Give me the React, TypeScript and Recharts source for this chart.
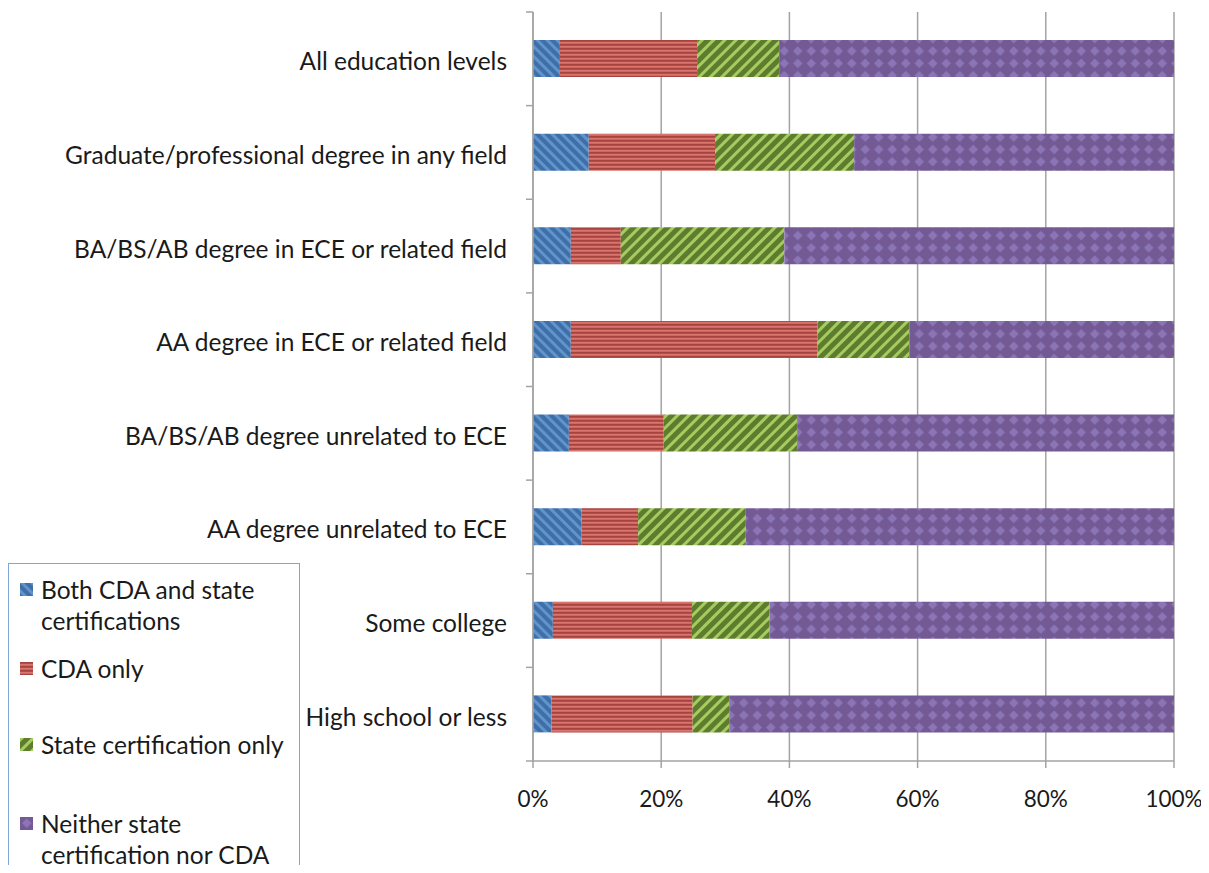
import { BarChart, Bar, XAxis, YAxis, CartesianGrid, Legend } from "recharts";

const categories = [
  "All education levels",
  "Graduate/professional degree in any field",
  "BA/BS/AB degree in ECE or related field",
  "AA degree in ECE or related field",
  "BA/BS/AB degree unrelated to ECE",
  "AA degree unrelated to ECE",
  "Some college",
  "High school or less",
];

// shares of workers in each education group, percent
const bothCdaState = [4.2, 8.7, 5.9, 5.9, 5.6, 7.6, 3.1, 2.9];
const cdaOnly = [21.4, 19.7, 7.8, 38.5, 14.8, 8.8, 21.7, 22.0];
const stateOnly = [12.8, 21.7, 25.5, 14.3, 20.8, 16.8, 12.1, 5.7];
const neither = [61.6, 49.9, 60.8, 41.3, 58.8, 66.8, 63.1, 69.4];

const xTicks = [0, 20, 40, 60, 80, 100];

const seriesNames = [
  "Both CDA and state certifications",
  "CDA only",
  "State certification only",
  "Neither state certification nor CDA",
];

const data = categories.map((name, i) => ({
  name,
  both: bothCdaState[i],
  cda: cdaOnly[i],
  state: stateOnly[i],
  neither: neither[i],
}));

const FONT = "Lato, 'Open Sans', sans-serif";
const WIDTH = 1201;
const HEIGHT = 865;
const Y_AXIS_W = 525;
const TOP = 4;
const BOTTOM = 52;
const X_AXIS_H = 60;
const PLOT_H = HEIGHT - TOP - BOTTOM - X_AXIS_H;
const BAND = PLOT_H / categories.length;
const GRID = "#a3a3a3";
const TEXT = "#1a1a1a";

function CategoryTick(props: any) {
  const { y, payload, index } = props;
  const y0 = y - BAND / 2;
  return (
    <g>
      <text
        x={Y_AXIS_W - 26}
        y={y + 2}
        textAnchor="end"
        dominantBaseline="central"
        fontFamily={FONT}
        fontSize={24.5}
        fill={TEXT}
      >
        {payload.value}
      </text>
      <line x1={Y_AXIS_W - 7} x2={Y_AXIS_W} y1={y0} y2={y0} stroke={GRID} strokeWidth={1.5} />
      {index === categories.length - 1 && (
        <line x1={Y_AXIS_W - 7} x2={Y_AXIS_W} y1={y0 + BAND} y2={y0 + BAND} stroke={GRID} strokeWidth={1.5} />
      )}
    </g>
  );
}

const swatches = ["url(#pBlue)", "url(#pRed)", "url(#pGreen)", "url(#pPurple)"];

function LegendBox() {
  const rows = [
    { label: ["Both CDA and state", "certifications"], top: 10 },
    { label: ["CDA only"], top: 89 },
    { label: ["State certification only"], top: 165 },
    { label: ["Neither state", "certification nor CDA"], top: 244 },
  ];
  return (
    <div
      style={{
        position: "relative",
        width: 292,
        height: 330,
        border: "1.5px solid #7ea6d8",
        boxSizing: "border-box",
        fontFamily: FONT,
        fontSize: 24.5,
        color: TEXT,
        background: "#fff",
      }}
    >
      {rows.map((r, i) => (
        <div key={i} style={{ position: "absolute", left: 11, top: r.top, display: "flex" }}>
          <svg width={13} height={13} style={{ marginTop: 9, marginRight: 8, flex: "none" }}>
            <rect width={13} height={13} fill={swatches[i]} />
          </svg>
          <div style={{ lineHeight: "31px", whiteSpace: "nowrap" }} title={seriesNames[i]}>
            {r.label.map((l) => (
              <div key={l}>{l}</div>
            ))}
          </div>
        </div>
      ))}
    </div>
  );
}

export default function App() {
  // the legend box runs past the bottom edge; clip it there and keep the page from scrolling
  return (
    <div style={{ width: WIDTH, height: HEIGHT, overflow: "hidden", marginBottom: -8 }}>
      <BarChart
        width={WIDTH}
        height={HEIGHT}
        data={data}
        layout="vertical"
        margin={{ top: TOP, right: 35, bottom: BOTTOM, left: 0 }}
      >
        <defs>
          <pattern id="pBlue" patternUnits="userSpaceOnUse" width={7} height={7} patternTransform="rotate(-45)">
            <rect width={7} height={7} fill="#3f6fa6" />
            <rect width={3} height={7} fill="#5f94cc" />
          </pattern>
          <pattern id="pRed" patternUnits="userSpaceOnUse" width={4} height={4}>
            <rect width={4} height={4} fill="#c65a55" />
            <rect y={0} width={4} height={1.6} fill="#a5443f" />
            <rect y={2.2} width={4} height={1.2} fill="#de7c74" />
          </pattern>
          <pattern id="pGreen" patternUnits="userSpaceOnUse" width={8} height={8} patternTransform="rotate(45)">
            <rect width={8} height={8} fill="#5f7b2d" />
            <rect width={3} height={8} fill="#a4cd61" />
          </pattern>
          <pattern id="pPurple" patternUnits="userSpaceOnUse" width={13.5} height={12.3}>
            <rect width={13.5} height={12.3} fill="#735a95" />
            <path d="M6.75 1.4 L11.5 6.15 L6.75 10.9 L2 6.15 Z" fill="#8c75b6" />
          </pattern>
        </defs>
        <CartesianGrid horizontal={false} stroke={GRID} strokeWidth={1.5} />
        <XAxis
          type="number"
          domain={[0, 100]}
          ticks={xTicks}
          tickFormatter={(v: number) => `${v}%`}
          height={X_AXIS_H}
          axisLine={{ stroke: GRID, strokeWidth: 1.5 }}
          tickLine={{ stroke: GRID, strokeWidth: 1.5 }}
          tickSize={7}
          tickMargin={23}
          tick={{ fill: TEXT, fontSize: 22.5, fontFamily: FONT }}
        />
        <YAxis
          type="category"
          dataKey="name"
          width={Y_AXIS_W}
          axisLine={{ stroke: GRID, strokeWidth: 1.5 }}
          tickLine={false}
          tick={<CategoryTick />}
          interval={0}
        />
        <Legend
          layout="horizontal"
          verticalAlign="middle"
          align="center"
          wrapperStyle={{ left: 0, top: 555, width: 292 }}
          content={() => <LegendBox />}
        />
        <Bar dataKey="both" name={seriesNames[0]} stackId="a" fill="url(#pBlue)" barSize={37} isAnimationActive={false} />
        <Bar dataKey="cda" name={seriesNames[1]} stackId="a" fill="url(#pRed)" barSize={37} isAnimationActive={false} />
        <Bar dataKey="state" name={seriesNames[2]} stackId="a" fill="url(#pGreen)" barSize={37} isAnimationActive={false} />
        <Bar dataKey="neither" name={seriesNames[3]} stackId="a" fill="url(#pPurple)" barSize={37} isAnimationActive={false} />
      </BarChart>
    </div>
  );
}
